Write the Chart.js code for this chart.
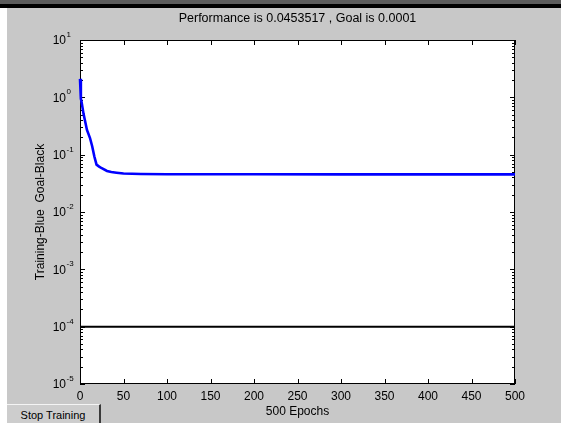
<!DOCTYPE html>
<html>
<head>
<meta charset="utf-8">
<script src="https://cdn.jsdelivr.net/npm/chart.js@4.4.1/dist/chart.umd.min.js"></script>
<style>
  html, body { margin: 0; padding: 0; }
  body { width: 561px; height: 423px; position: relative; overflow: hidden; background: #c8c8c8; font-family: "Liberation Sans", Arial, sans-serif; }
  #topgrey { position: absolute; left: 0; top: 0; width: 561px; height: 4px; background: #5c5c5c; }
  #topblack { position: absolute; left: 0; top: 4px; width: 561px; height: 4px; background: #000; }
  #leftwhite { position: absolute; left: 0; top: 8px; width: 7px; height: 415px; background: #fff; }
  #btn { position: absolute; left: 7px; top: 404px; width: 94px; height: 19px; background: #cdcdcd;
         border-top: 1px solid #f4f4f4; border-right: 2px solid #3a3a3a; font-size: 11px; color: #000;
         line-height: 20px; text-align: center; box-sizing: border-box; }
  #wrap { position: absolute; left: 0; top: 0; width: 561px; height: 423px; }
</style>
</head>
<body>
<div id="topgrey"></div>
<div id="topblack"></div>
<div id="leftwhite"></div>
<div id="wrap"><canvas id="c" width="561" height="423"></canvas></div>
<div id="btn">Stop Training</div>
<script>
// ---- data ----
const epochs = [0, 1, 2, 4, 8, 11.5, 14, 16.5, 19, 22, 25, 31, 36, 42, 50, 70, 100, 200, 300, 400, 500];
const perf   = [2.1, 0.95, 0.80, 0.52, 0.27, 0.195, 0.14, 0.093, 0.067, 0.062, 0.058, 0.052, 0.050, 0.0485, 0.0468, 0.0459, 0.0456, 0.0455, 0.0454, 0.04537, 0.0453517];
const goalEpochs = [0, 500];
const goalValues = [0.0001, 0.0001];
const xTicks = [0, 50, 100, 150, 200, 250, 300, 350, 400, 450, 500];
const yExponents = [1, 0, -1, -2, -3, -4, -5];
const titleText = 'Performance is 0.0453517 , Goal is 0.0001';
const yTitle = 'Training-Blue  Goal-Black';
const xTitle = '500 Epochs';

const FONT = '"Liberation Sans", Arial, sans-serif';

const boxPlugin = {
  id: 'matlabBox',
  beforeDatasetsDraw(chart) {
    const {ctx, chartArea: a} = chart;
    const xs = chart.scales.x, ys = chart.scales.y;
    ctx.save();
    ctx.fillStyle = '#ffffff';
    ctx.fillRect(a.left, a.top, a.right - a.left, a.bottom - a.top);
    ctx.strokeStyle = '#000';
    ctx.lineWidth = 1;
    ctx.strokeRect(a.left + 0.5, a.top + 0.5, a.right - a.left - 1, a.bottom - a.top - 1);
    ctx.beginPath();
    xTicks.forEach(v => {
      const px = Math.round(xs.getPixelForValue(v)) + 0.5;
      ctx.moveTo(px, a.bottom); ctx.lineTo(px, a.bottom - 5);
      ctx.moveTo(px, a.top); ctx.lineTo(px, a.top + 5);
    });
    yExponents.forEach(e => {
      const base = Math.pow(10, e);
      const py = Math.round(ys.getPixelForValue(base)) + 0.5;
      ctx.moveTo(a.left, py); ctx.lineTo(a.left + 5, py);
      ctx.moveTo(a.right, py); ctx.lineTo(a.right - 5, py);
      if (e > -5) {
        for (let m = 2; m <= 9; m++) {
          const v = m * Math.pow(10, e - 1);
          const p = Math.round(ys.getPixelForValue(v)) + 0.5;
          ctx.moveTo(a.left, p); ctx.lineTo(a.left + 3, p);
          ctx.moveTo(a.right, p); ctx.lineTo(a.right - 3, p);
        }
      }
    });
    ctx.stroke();
    ctx.restore();
  },
  afterDraw(chart) {
    const {ctx, chartArea: a} = chart;
    const ys = chart.scales.y;
    ctx.save();
    ctx.fillStyle = '#000';
    // title centred over the plot box
    ctx.font = '12.5px ' + FONT;
    ctx.textAlign = 'center';
    ctx.textBaseline = 'middle';
    ctx.fillText(titleText, (a.left + a.right) / 2, 19);
    // y tick labels: 10 with superscript exponent
    yExponents.forEach(e => {
      const py = ys.getPixelForValue(Math.pow(10, e));
      ctx.font = '12px ' + FONT;
      ctx.textAlign = 'right';
      ctx.textBaseline = 'middle';
      ctx.fillText('10', 66, py + 1);
      ctx.font = '8px ' + FONT;
      ctx.textAlign = 'left';
      ctx.textBaseline = 'alphabetic';
      ctx.fillText(String(e), 66.5, py - 3);
    });
    ctx.restore();
  }
};

new Chart(document.getElementById('c'), {
  type: 'line',
  data: {
    datasets: [
      {
        label: 'Goal',
        data: goalEpochs.map((x, i) => ({x, y: goalValues[i]})),
        borderColor: '#000000',
        borderWidth: 2,
        pointRadius: 0,
        tension: 0
      },
      {
        label: 'Training',
        data: epochs.map((x, i) => ({x, y: perf[i]})),
        borderColor: '#0000ff',
        borderWidth: 2.6,
        pointRadius: 0,
        tension: 0,
        clip: 2
      }
    ]
  },
  options: {
    responsive: false,
    animation: false,
    devicePixelRatio: 1,
    layout: { padding: { left: 0, top: 40, right: 46, bottom: 0 } },
    plugins: {
      legend: { display: false },
      tooltip: { enabled: false },
      title: { display: false }
    },
    scales: {
      x: {
        type: 'linear',
        min: 0, max: 500,
        afterBuildTicks(scale) { scale.ticks = xTicks.map(v => ({value: v})); },
        afterFit(scale) { scale.height = 39; },
        grid: { display: false, drawTicks: false },
        border: { display: false },
        ticks: { color: '#000', padding: 5, maxRotation: 0, autoSkip: false, font: { family: FONT, size: 12 } },
        title: { display: true, text: xTitle, color: '#000', padding: { top: 0, bottom: 4 }, font: { family: FONT, size: 12 } }
      },
      y: {
        type: 'logarithmic',
        min: 1e-5, max: 10,
        afterFit(scale) { scale.width = 80; },
        grid: { display: false, drawTicks: false },
        border: { display: false },
        ticks: { display: false },
        title: { display: true, text: yTitle, color: '#000', padding: { top: 33, bottom: 0 }, font: { family: FONT, size: 12 } }
      }
    }
  },
  plugins: [boxPlugin]
});
</script>
</body>
</html>
